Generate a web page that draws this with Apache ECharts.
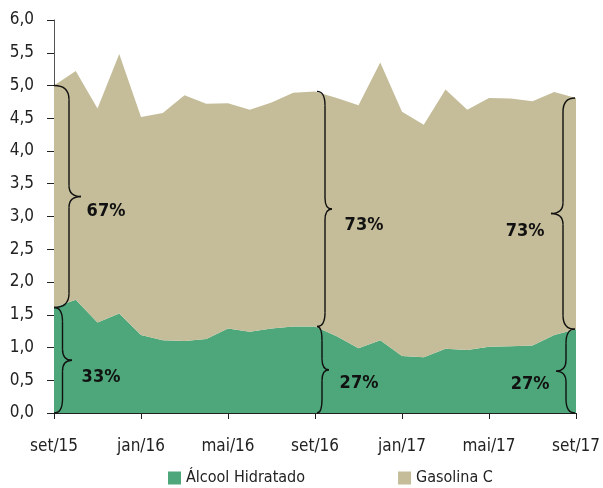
<!DOCTYPE html>
<html>
<head>
<meta charset="utf-8">
<style>
  html, body { margin: 0; padding: 0; background: #fff; }
  #main { width: 603px; height: 488px; }
</style>
<script src="https://cdn.jsdelivr.net/npm/echarts@6/dist/echarts.min.js"></script>
</head>
<body>
<div id="main"></div>
<script>
// meses
var months = ['set/15','out/15','nov/15','dez/15','jan/16','fev/16','mar/16','abr/16','mai/16','jun/16','jul/16','ago/16',
  'set/16','out/16','nov/16','dez/16','jan/17','fev/17','mar/17','abr/17','mai/17','jun/17','jul/17','ago/17','set/17'];
// Álcool Hidratado
var alcool = [1.61, 1.73, 1.38, 1.52, 1.19, 1.11, 1.10, 1.13, 1.29, 1.24, 1.29, 1.32,
  1.32, 1.17, 0.99, 1.11, 0.87, 0.85, 0.98, 0.96, 1.01, 1.02, 1.03, 1.19, 1.28];
// total (Álcool + Gasolina)
var total = [5.00, 5.22, 4.65, 5.48, 4.52, 4.58, 4.85, 4.72, 4.73, 4.63, 4.74, 4.89,
  4.91, 4.81, 4.70, 5.35, 4.60, 4.40, 4.94, 4.63, 4.81, 4.80, 4.76, 4.90, 4.81];
var gasolina = total.map(function (t, i) { return +(t - alcool[i]).toFixed(2); });
var yTicks = [0, 6, 0.5];
// chaves: indice do mes, rotulo tan, rotulo verde
var braceIdx = [0, 12, 24];
var pctGas = ['67%', '73%', '73%'];
var pctAlc = ['33%', '27%', '27%'];

var font = '"Liberation Sans Narrow", "DejaVu Sans Condensed", sans-serif';
var chart = echarts.init(document.getElementById('main'));

var option = {
  animation: false,
  grid: { left: 54, right: 25, top: 20, bottom: 75 },
  legend: {
    left: 163, top: 465,
    itemWidth: 13, itemHeight: 13, itemGap: 93,
    icon: 'rect',
    textStyle: { fontFamily: font, fontSize: 16, color: '#222' },
    data: ['Álcool Hidratado', 'Gasolina C']
  },
  xAxis: {
    type: 'category',
    data: months,
    boundaryGap: false,
    axisLine: { lineStyle: { color: '#222', width: 1 } },
    axisTick: { interval: 3, length: 6, lineStyle: { color: '#222' } },
    axisLabel: { interval: 3, margin: 25, fontFamily: font, fontSize: 17, color: '#222' }
  },
  yAxis: {
    type: 'value',
    min: yTicks[0], max: yTicks[1], interval: yTicks[2],
    splitLine: { show: false },
    axisLine: { show: true, lineStyle: { color: '#555', width: 1 } },
    axisTick: { show: true, length: 7, lineStyle: { color: '#222' } },
    axisLabel: {
      margin: 20, fontFamily: font, fontSize: 17, color: '#222',
      formatter: function (v) { return v.toFixed(1).replace('.', ','); }
    }
  },
  series: [
    {
      name: 'Álcool Hidratado', type: 'line', stack: 'total', data: alcool,
      symbol: 'none', lineStyle: { width: 0 },
      itemStyle: { color: '#4ea77a' },
      areaStyle: { color: '#4ea77a', opacity: 1 }
    },
    {
      name: 'Gasolina C', type: 'line', stack: 'total', data: gasolina,
      symbol: 'none', lineStyle: { width: 0 },
      itemStyle: { color: '#c5bd99' },
      areaStyle: { color: '#c5bd99', opacity: 1 }
    }
  ]
};
chart.setOption(option);

var braceStyle = { stroke: '#111', lineWidth: 1.4, fill: null };

// chave entre y1 e y2 (pixels), feita de curvas e retas
function brace(out, x, y1, y2, dir, body, tip) {
  var xb = x + dir * body, xt = x + dir * tip;
  var ym = (y1 + y2) / 2;
  var c1 = 14, c2 = 11;
  function q(a, b, cp) {
    out.push({ type: 'bezierCurve', z: 100, style: braceStyle,
      shape: { x1: a[0], y1: a[1], x2: b[0], y2: b[1], cpx1: cp[0], cpy1: cp[1] } });
  }
  function l(a, b) {
    out.push({ type: 'line', z: 100, style: braceStyle,
      shape: { x1: a[0], y1: a[1], x2: b[0], y2: b[1] } });
  }
  q([x, y1], [xb, y1 + c1], [xb, y1]);
  l([xb, y1 + c1], [xb, ym - c2]);
  q([xb, ym - c2], [xt, ym], [xb, ym]);
  q([xt, ym], [xb, ym + c2], [xb, ym]);
  l([xb, ym + c2], [xb, y2 - c1]);
  q([xb, y2 - c1], [x, y2], [xb, y2]);
}

var braceCfg = [
  { dx: 0, dir: 1, gas: [15, 27], alc: [8.5, 18], lblGas: [25, 15], lblAlc: [29, 17] },
  { dx: 2, dir: 1, gas: [8, 15], alc: [5, 12], lblGas: [32, 16], lblAlc: [30, 14] },
  { dx: -1, dir: -1, gas: [12, 24], alc: [9, 19], lblGas: [-26, 18], lblAlc: [-26, 13] }
];

var graphics = [];
braceIdx.forEach(function (idx, k) {
  var cfg = braceCfg[k];
  var pTop = chart.convertToPixel({ gridIndex: 0 }, [idx, total[idx]]);
  var pMid = chart.convertToPixel({ gridIndex: 0 }, [idx, alcool[idx]]);
  var pBot = chart.convertToPixel({ gridIndex: 0 }, [idx, 0]);
  var x = pTop[0] + cfg.dx;
  var segs = [
    { y1: pTop[1], y2: pMid[1], d: cfg.gas, lbl: cfg.lblGas, txt: pctGas[k] },
    { y1: pMid[1], y2: pBot[1], d: cfg.alc, lbl: cfg.lblAlc, txt: pctAlc[k] }
  ];
  segs.forEach(function (s) {
    brace(graphics, x, s.y1, s.y2, cfg.dir, s.d[0], s.d[1]);
    var tipX = x + cfg.dir * s.d[1];
    var ym = (s.y1 + s.y2) / 2;
    graphics.push({
      type: 'text', z: 100,
      x: tipX + s.lbl[0], y: ym + s.lbl[1],
      style: {
        text: s.txt, fill: '#111', fontFamily: font, fontSize: 18, fontWeight: 'bold',
        align: 'center', verticalAlign: 'middle'
      }
    });
  });
});
chart.setOption({ graphic: graphics });
</script>
</body>
</html>
